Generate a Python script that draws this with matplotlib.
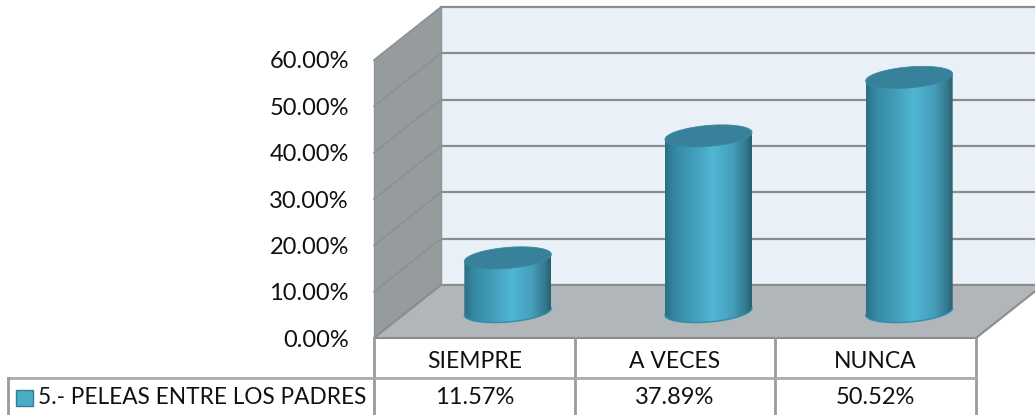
import numpy as np
import matplotlib
matplotlib.use("Agg")
import matplotlib.pyplot as plt
from matplotlib.colors import LinearSegmentedColormap
from matplotlib.patches import Polygon

plt.rcParams['font.family'] = ['Lato', 'DejaVu Sans']

categories = ['SIEMPRE', 'A VECES', 'NUNCA']
values = [11.57, 37.89, 50.52]
value_labels = ['11.57%', '37.89%', '50.52%']
ticks = [0, 10, 20, 30, 40, 50, 60]
tick_labels = ['0.00%', '10.00%', '20.00%', '30.00%', '40.00%', '50.00%', '60.00%']
series_name = '5.- PELEAS ENTRE LOS PADRES'

W, H = 1035, 415
fig = plt.figure(figsize=(W / 100, H / 100), dpi=100, facecolor='white')
# axes = front plane of the 3d box
ax = fig.add_axes([374 / W, (H - 338) / H, 602 / W, 278 / H])
ax.set_xlim(0, 3)
ax.set_ylim(0, 60)
for s in ax.spines.values():
    s.set_visible(False)
ax.patch.set_visible(False)

# one pixel in data units
PX = 3 / 602
PY = 60 / 278
dx = 67 * PX   # depth of the box
dy = 53 * PY

grid = '#8c8c8c'
ax.add_patch(Polygon([(dx, dy), (3 + dx, dy), (3 + dx, 60 + dy), (dx, 60 + dy)],
                     fc='#e9f0f7', ec='none', zorder=1, clip_on=False))
ax.add_patch(Polygon([(0, 0), (dx, dy), (dx, 60 + dy), (0, 60)],
                     fc='#969c9e', ec='none', zorder=1, clip_on=False))
ax.add_patch(Polygon([(0, 0), (3, 0), (3 + dx, dy), (dx, dy)],
                     fc='#b1b6ba', ec=grid, lw=1.5, zorder=2, clip_on=False))
for t in ticks:
    ax.plot([dx, 3 + dx], [t + dy, t + dy], color=grid, lw=1.6, zorder=1.5, clip_on=False)
    ax.plot([0, dx], [t, t + dy], color='#8b9092', lw=1.2, zorder=1.5, clip_on=False)
ax.plot([dx, dx], [dy, 60 + dy], color='#8f9597', lw=1, zorder=1.5, clip_on=False)
ax.plot([0, 0], [0, 60], color='#8f9597', lw=1, zorder=1.5, clip_on=False)

# cylinders
cmap = LinearSegmentedColormap.from_list('cyl', [(0, '#2b7086'), (0.12, '#378aa3'), (0.3, '#419ab5'),
                                                 (0.55, '#50b6d4'), (0.78, '#459fba'),
                                                 (0.93, '#347a90'), (1, '#2b5f70')])
grad = np.linspace(0, 1, 256).reshape(1, -1)
rx = 43.5 * PX
ry = 10.5 * PY
shear = 3.5 * PY
th = np.linspace(0, 2 * np.pi, 121)

for i, v in enumerate(values):
    cx = i + 0.5 + dx / 2
    y0 = dy / 2
    y1 = y0 + v
    low = np.linspace(np.pi, 2 * np.pi, 61)
    ex = cx + rx * np.cos(low)
    ey = y0 + ry * np.sin(low) + shear * np.cos(low)
    body = Polygon(np.r_[np.c_[ex, ey], [[cx + rx, y1 + shear], [cx - rx, y1 - shear]]],
                   fc='none', ec='none', transform=ax.transData)
    ax.add_patch(body)
    im = ax.imshow(grad, cmap=cmap, aspect='auto', zorder=3,
                   extent=[cx - rx, cx + rx, y0 - 15 * PY, y1 + 15 * PY])
    im.set_clip_path(body)
    ax.plot(ex, ey, color='#2f8ea8', lw=1, zorder=3.1)
    top = np.c_[cx + rx * np.cos(th), y1 + ry * np.sin(th) + shear * np.cos(th)]
    ax.add_patch(Polygon(top, fc='#37819a', ec='#3a8ba4', lw=0.6, zorder=4))
ax.set_xlim(0, 3)
ax.set_ylim(0, 60)

# axis labels
ax.set_yticks(ticks)
ax.set_yticklabels(tick_labels, fontsize=17, color='#111111')
ax.set_xticks([i + 0.5 for i in range(3)])
ax.set_xticklabels(categories, fontsize=16.5, color='#111111')
ax.tick_params(axis='y', length=0, pad=18)
ax.tick_params(axis='x', length=0, pad=9)

# data table under the chart
line = '#9a9a9a'
row = -40 * PY
bottom = -77 * PY
left = -366 * PX
for i in range(4):
    ax.plot([i, i], [0, bottom], color=line, lw=2, clip_on=False, zorder=2)
ax.plot([left, 3], [row, row], color='#aaaaaa', lw=2, clip_on=False, zorder=2)
ax.plot([left, left], [row, bottom], color=line, lw=2, clip_on=False, zorder=2)
for i, lab in enumerate(value_labels):
    ax.text(i + 0.5, row - 19 * PY, lab, ha='center', va='center', fontsize=17, color='#111111')
ax.text(-336 * PX, row - 19 * PY, series_name, ha='left', va='center', fontsize=16.3, color='#111111')
ax.add_patch(Polygon([(-358 * PX, row - 12 * PY), (-341 * PX, row - 12 * PY),
                      (-341 * PX, row - 28 * PY), (-358 * PX, row - 28 * PY)],
                     fc='#4bacc6', ec='#357f96', lw=1, clip_on=False, zorder=3))

fig.savefig('out.png', dpi=100)
